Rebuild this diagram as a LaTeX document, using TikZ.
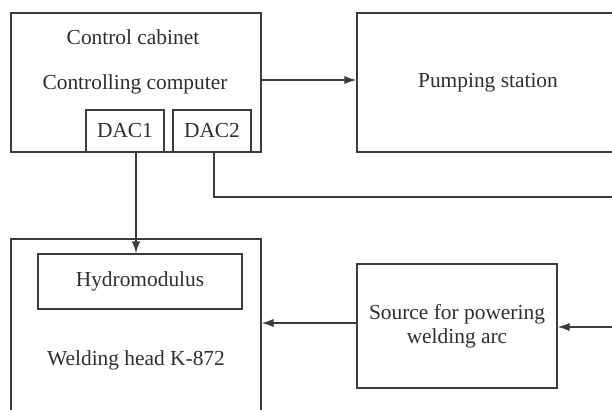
\documentclass[tikz,border=0pt]{standalone}
\usepackage{fontspec}
\setmainfont{Liberation Serif}
\usepackage{tikz}
\usetikzlibrary{arrows.meta}
\definecolor{linegray}{HTML}{3C3C3C}
\definecolor{textgray}{HTML}{2E2E2E}

\begin{document}
\begin{tikzpicture}[x=0.5pt, y=-0.5pt,
  box/.style={draw=linegray, line width=0.7pt, rectangle, inner sep=0pt, text=textgray, align=center, font=\fontsize{10.7}{12}\selectfont},
  lbl/.style={text=textgray, inner sep=0pt, font=\fontsize{10.7}{12}\selectfont},
  arr/.style={draw=linegray, line width=0.7pt, -{Latex[length=6pt,width=4.2pt]}},
  wire/.style={draw=linegray, line width=0.7pt}]
\useasboundingbox (0,0) rectangle (612,410);
\clip (0,0) rectangle (612,410);
\node [box, minimum width=125pt, minimum height=69.5pt] (cab) at (136,82.5) {};
\node [lbl] (cabtitle) at (133,37.5) {Control cabinet};
\node [lbl] (computer) at (135,84) {Controlling computer};
\node [box, minimum width=39pt, minimum height=21pt] (dacA) at (125,131) {DAC1};
\node [box, minimum width=39pt, minimum height=21pt] (dacB) at (212,131) {DAC2};
\node [box, minimum width=131pt, minimum height=69.5pt] (pump) at (488,82.5) {Pumping station};
\node [box, minimum width=125pt, minimum height=121pt] (weld) at (136,360) {Welding head K-872};
\node [box, minimum width=102pt, minimum height=27.5pt] (hydro) at (140,281.5) {Hydromodulus};
\node [box, minimum width=100pt, minimum height=62pt] (src) at (457,326) {Source for powering\\welding arc};
\coordinate (feedA) at (620,197);
\coordinate (feedB) at (620,327);
\draw [arr] ([yshift=1.25pt]cab.east) -- ([yshift=1.25pt]pump.west);
\draw [arr] ([xshift=5.5pt]dacA.south) -- ([xshift=5.5pt]dacA.south |- hydro.north);
\draw [wire] ([xshift=1pt]dacB.south) |- (feedA);
\draw [arr] ([yshift=1.5pt]src.west) -- ([yshift=1.5pt]src.west -| weld.east);
\draw [arr] (feedB) -- (feedB -| src.east);
\end{tikzpicture}
\end{document}
